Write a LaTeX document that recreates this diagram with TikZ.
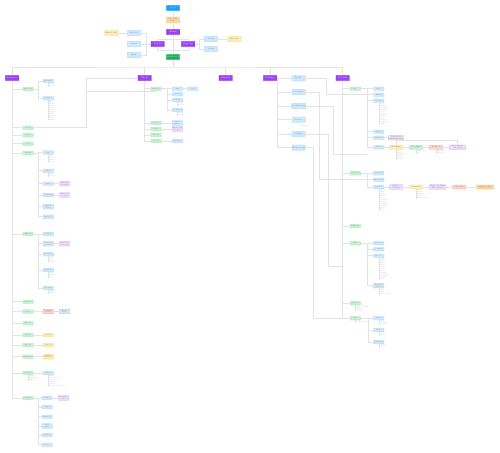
\documentclass[tikz,border=0pt]{standalone}
\usepackage{tikz}
\usetikzlibrary{positioning}
\usepackage{xcolor}
\definecolor{topblue}{HTML}{18A0FB}
\definecolor{topgreen}{HTML}{1BB15A}
\definecolor{peach}{HTML}{FDD8A2}
\definecolor{peachline}{HTML}{F5BE6E}
\definecolor{hdrpurple}{HTML}{9B42F3}
\definecolor{secfill}{HTML}{C5F3D2}
\definecolor{secline}{HTML}{95DDAB}
\definecolor{pgfill}{HTML}{CFE9FC}
\definecolor{pgline}{HTML}{9DCDF3}
\definecolor{notefill}{HTML}{EEDCFC}
\definecolor{noteline}{HTML}{D1A9F5}
\definecolor{warnfill}{HTML}{FDD2CE}
\definecolor{warnline}{HTML}{F0A39B}
\definecolor{hintfill}{HTML}{FEEEB3}
\definecolor{hintline}{HTML}{F2D675}
\definecolor{orafill}{HTML}{FDD3A0}
\definecolor{oraline}{HTML}{F3AE5E}
\definecolor{wiregray}{HTML}{E3E3E3}
\definecolor{listgray}{HTML}{9A9A9A}
\definecolor{boxtext}{HTML}{6A6A6A}

\begin{document}
\begin{tikzpicture}[x=1pt,y=-1pt,
  wire/.style={draw=wiregray,line width=0.45pt},
  guide/.style={draw=wiregray,line width=0.3pt},
  box/.style={draw,rounded corners=0.4pt,line width=0.25pt,inner sep=0.2pt,align=center,text=boxtext,
    font=\fontsize{1.5}{1.8}\selectfont,minimum width=10.4pt,minimum height=3.4pt},
  hdr/.style={box,fill=hdrpurple,draw=hdrpurple!85!black,text=white,minimum width=13.5pt,
    minimum height=5.4pt,font=\fontsize{2}{2.4}\selectfont},
  big/.style={minimum width=13.3pt,minimum height=5.2pt,font=\fontsize{1.8}{2.1}\selectfont},
  wide/.style={minimum width=16.7pt},
  two/.style={minimum height=4.6pt},
  sec/.style={box,fill=secfill,draw=secline},
  pg/.style={box,fill=pgfill,draw=pgline},
  note/.style={box,fill=notefill,draw=noteline},
  warn/.style={box,fill=warnfill,draw=warnline},
  hint/.style={box,fill=hintfill,draw=hintline},
  ora/.style={box,fill=orafill,draw=oraline},
  lst/.style={anchor=north west,inner sep=0pt,align=left,text=listgray,font=\fontsize{1.4}{2}\selectfont}
]
\fill[white] (0,0) rectangle (500,452);
\useasboundingbox (0,0) rectangle (500,452);

% entry
\node[box,big,fill=topblue,draw=topblue,text=white] (start) at (173,8) {Start};
\node[box,big,fill=peach,draw=peachline,minimum height=6pt] (landing) at (173,20) {Landing\\Page};
\node[hdr] (home) at (173,32) {Home};
\node[hdr] (login) at (157.7,44) {Log In};
\node[hdr] (signup) at (188,44) {Sign Up};
\node[box,big,fill=topgreen,draw=topgreen,text=white] (dash) at (173,57) {Dashboard};
\node[pg,big] (recover) at (134,33) {Recover};
\node[pg,big] (reset) at (134,44) {Reset};
\node[pg,big] (help) at (134,55) {Help};
\node[hint,big] (sent) at (111.5,33) {Email Sent};
\node[pg,big] (verify) at (211,39) {Verify};
\node[pg,big] (terms) at (211,49) {Terms};
\node[hint,big] (welcome) at (234.5,39) {Welcome};

\coordinate (split) at (173,39.5);
\coordinate (join) at (173,50.5);
\draw[wire] (start) -- (landing);
\draw[wire] (landing) -- (home);
\draw[wire] (home) -- (dash);
\draw[wire] (login.north) |- (split) -| (signup.north);
\draw[wire] (login.south) |- (join) -| (signup.south);
\draw[wire] (sent) -- (recover);
\draw[wire] (recover.east) -- ++(5,0) |- (login.west);
\draw[wire] (reset.east) -- (login.west);
\draw[wire] (help.east) -- ++(5,0) |- (login.west);
\draw[wire] (verify.west) -- ++(-5,0) |- (signup.east);
\draw[wire] (terms.west) -- ++(-5,0) |- (signup.east);
\draw[wire] (welcome) -- (verify);

% sections
\node[hdr] (projects) at (12,78) {Projects};
\node[hdr] (team) at (144.7,78) {Team};
\node[hdr] (reports) at (225.7,78) {Reports};
\node[hdr] (settings) at (270,78) {Settings};
\node[hdr] (account) at (342.7,78) {Account};
\coordinate (bus) at (173,67);
\draw[wire] (dash) -- (bus);
\draw[wire] (projects.north) |- (bus) -| (account.north);
\draw[wire] (team.north) -- (team.north |- bus);
\draw[wire] (reports.north) -- (reports.north |- bus);
\draw[wire] (settings.north) -- (settings.north |- bus);

% projects
\node[sec] (ov) at (28,89) {Overview};
\node[sec] (srch) at (28,127.7) {Search};
\node[sec] (filt) at (28,135.3) {Filter};
\node[sec] (sortg) at (28,143.7) {Sort};
\node[sec] (det) at (28,152.8) {Details};
\node[sec] (edt) at (28,234) {Editor};
\node[sec] (arch) at (28,301.7) {Archive};
\node[sec] (del) at (28,311.5) {Delete};
\node[sec] (expo) at (28,323.3) {Export};
\node[sec] (shr) at (28,335) {Share};
\node[sec] (imp) at (28,345) {Import};
\node[sec] (tmpl) at (28,356.7) {Templates};
\node[sec] (act) at (28,373) {Activity};
\node[sec] (crt) at (28,398) {Create};
\draw[wire] (projects.south) |- (crt.west);
\draw[wire] (ov.west) -- (ov.west -| projects.south) (srch.west) -- (srch.west -| projects.south)
  (filt.west) -- (filt.west -| projects.south) (sortg.west) -- (sortg.west -| projects.south)
  (det.west) -- (det.west -| projects.south) (edt.west) -- (edt.west -| projects.south)
  (arch.west) -- (arch.west -| projects.south) (del.west) -- (del.west -| projects.south)
  (expo.west) -- (expo.west -| projects.south) (shr.west) -- (shr.west -| projects.south)
  (imp.west) -- (imp.west -| projects.south) (tmpl.west) -- (tmpl.west -| projects.south)
  (act.west) -- (act.west -| projects.south);

\node[pg] (ovA) at (48.3,81) {Summary};
\node[pg] (ovB) at (48.3,98.3) {Stats};
\node[lst] (ovAl) at ([xshift=0.7pt,yshift=-0.8pt]ovA.south) {Recent\\Pinned};
\node[lst] (ovBl) at ([xshift=0.7pt,yshift=-0.8pt]ovB.south) {Open\\Closed\\Overdue\\Progress\\Milestones\\Budget\\Hours\\Owners\\Tags\\Trend};
\draw[wire] (ov.east) -- ++(5.3,0) coordinate (ovk);
\draw[wire] (ovA.west) -| (ovk) |- (ovB.west);
\draw[guide] (ovA.south) -- (ovA.south |- ovAl.south) (ovB.south) -- (ovB.south |- ovBl.south);

\node[pg] (detA) at (48.3,152.5) {Info};
\node[pg] (detB) at (48.3,170.7) {Tasks};
\node[pg] (detC) at (48.3,183.7) {Files};
\node[note,two] (detCn) at (64.7,183.7) {Max size\\25 MB};
\node[pg] (detD) at (48.3,195) {Comments};
\node[note,two] (detDn) at (64.7,195) {Mentions\\notify};
\node[pg,two] (detE) at (48.3,206.7) {Linked\\Items};
\node[pg] (detF) at (48.3,216.7) {History};
\node[lst] (detAl) at ([xshift=0.7pt,yshift=-0.8pt]detA.south) {Name\\Owner\\Status\\Dates};
\node[lst] (detBl) at ([xshift=0.7pt,yshift=-0.8pt]detB.south) {Open\\Done};
\draw[wire] (det.east) -- ++(5.3,0) coordinate (detk);
\draw[wire] (detA.west) -| (detk) |- (detF.west);
\draw[wire] (detB.west) -- (detB.west -| detk) (detC.west) -- (detC.west -| detk)
  (detD.west) -- (detD.west -| detk) (detE.west) -- (detE.west -| detk);
\draw[wire] (detC) -- (detCn) (detD) -- (detDn);
\draw[guide] (detA.south) -- (detA.south |- detAl.south) (detB.south) -- (detB.south |- detBl.south);

\node[pg] (edtA) at (48.3,234) {Canvas};
\node[pg,two] (edtB) at (48.3,243.7) {Version\\Control};
\node[note,two] (edtBn) at (64.7,243.7) {Autosave\\on edit};
\node[pg] (edtC) at (48.3,254.3) {Toolbar};
\node[pg] (edtD) at (48.3,270) {Sidebar};
\node[pg] (edtE) at (48.3,288) {Preview};
\node[lst] (edtCl) at ([xshift=0.7pt,yshift=-0.8pt]edtC.south) {Undo\\Redo\\Format};
\node[lst] (edtDl) at ([xshift=0.7pt,yshift=-0.8pt]edtD.south) {Layers\\Assets\\Notes};
\node[lst] (edtEl) at ([xshift=0.7pt,yshift=-0.8pt]edtE.south) {Desktop\\Mobile};
\draw[wire] (edt.east) -- (edtA.west);
\draw[wire] (edtA.west) -- ++(-5,0) coordinate (edtk) |- (edtE.west);
\draw[wire] (edtB.west) -- (edtB.west -| edtk) (edtC.west) -- (edtC.west -| edtk)
  (edtD.west) -- (edtD.west -| edtk);
\draw[wire] (edtB) -- (edtBn);
\draw[guide] (edtC.south) -- (edtC.south |- edtCl.south) (edtD.south) -- (edtD.south |- edtDl.south)
  (edtE.south) -- (edtE.south |- edtEl.south);

\node[warn,two] (delW) at (48.3,311.5) {Confirm\\Delete};
\node[pg,two] (delP) at (64.5,311.5) {Undo\\Toast};
\draw[wire] (del) -- (delW) -- (delP);
\node[hint] (shrH) at (48.3,335) {Invite};
\node[hint] (impH) at (48.3,345) {Upload};
\node[hint,two] (tmplH) at (48.3,356.7) {Template\\Gallery};
\draw[wire] (shr) -- (shrH) (imp) -- (impH) (tmpl) -- (tmplH);

\node[pg] (actA) at (48.3,373) {Feed};
\node[lst] (actl) at ([xshift=0.7pt,yshift=-0.8pt]act.south) {Today\\This week\\Earlier};
\node[lst] (actAl) at ([xshift=0.7pt,yshift=-0.8pt]actA.south) {Edits\\Comments\\Uploads\\Members\\Status\\Deadlines changed};
\draw[wire] (act) -- (actA);
\draw[guide] (act.south) -- (act.south |- actl.south) (actA.south) -- (actA.south |- actAl.south);

\node[pg] (crtA) at (47,398) {Name};
\node[note,two] (crtAn) at (63.5,398) {Required\\field};
\node[pg] (crtB) at (47,407) {Type};
\node[pg] (crtC) at (47,416.7) {Members};
\node[pg,two] (crtD) at (47,426) {Start\\Date};
\node[pg] (crtE) at (47,435) {Privacy};
\node[pg] (crtF) at (47,444.7) {Done};
\draw[wire] (crt.east) -- (crtA.west);
\draw[wire] (crt.east) -- ++(5.3,0) coordinate (crtk) |- (crtF.west);
\draw[wire] (crtB.west) -- (crtB.west -| crtk) (crtC.west) -- (crtC.west -| crtk)
  (crtD.west) -- (crtD.west -| crtk) (crtE.west) -- (crtE.west -| crtk);
\draw[wire] (crtA) -- (crtAn);

% team
\node[sec] (mem) at (156,88.7) {Members};
\node[sec] (rol) at (156,123) {Roles};
\node[sec] (inv) at (156,129) {Invites};
\node[sec] (grp) at (156,135) {Groups};
\node[sec] (perm) at (156,141) {Access};
\draw[wire] (team.south) |- (perm.west);
\draw[wire] (mem.west) -- (mem.west -| team.south) (rol.west) -- (rol.west -| team.south)
  (inv.west) -- (inv.west -| team.south) (grp.west) -- (grp.west -| team.south);
\node[pg] (memA) at (177.5,88.7) {List};
\node[pg] (memA2) at (192.7,88.7) {Card};
\node[pg] (memB) at (177.5,94.3) {Search};
\node[pg] (memC) at (177.5,100) {Profile};
\node[pg] (memD) at (177.5,110) {Workload};
\node[lst] (memCl) at ([xshift=0.7pt,yshift=-0.8pt]memC.south) {Contact\\Projects};
\node[lst] (memDl) at ([xshift=0.7pt,yshift=-0.8pt]memD.south) {Week\\Month};
\draw[wire] (mem) -- (memA) -- (memA2);
\draw[wire] (mem.east) -- ++(5.7,0) coordinate (memk) |- (memD.west);
\draw[wire] (memB.west) -- (memB.west -| memk) (memC.west) -- (memC.west -| memk);
\draw[guide] (memC.south) -- (memC.south |- memCl.south) (memD.south) -- (memD.south |- memDl.south);
\node[pg,two] (rolA) at (177.5,123) {Role\\Editor};
\node[note,two] (invN) at (177.5,129) {Expires in\\7 days};
\node[pg] (permA) at (177.5,141) {Matrix};
\draw[wire] (rol) -- (rolA) (inv) -- (invN) (perm) -- (permA);

\coordinate (xa) at (86,78);
\coordinate (xb) at (86,91.7);
\draw[wire] (srch.east) -| (xa) -- (team.west);
\draw[wire] (xb) -| (mem.south);

% settings
\node[pg,big] (prof) at (298.7,78.3) {Profile};
\node[pg,big] (secr) at (298.7,92) {Security};
\node[pg,big] (notif) at (298.7,106) {Notifications};
\node[pg,big] (priv) at (298.7,119.7) {Privacy};
\node[pg,big] (bill) at (298.7,134) {Billing};
\node[pg,big] (intg) at (298.7,147.7) {Integrations};
\node[lst] (privl) at ([xshift=1.3pt,yshift=-3.2pt]priv.south) {Visibility};
\draw[wire] (settings) -- (prof);
\draw[wire] (prof.west) -- ++(-14.3,0) coordinate (stk) |- (intg.west);
\draw[wire] (secr.west) -- (secr.west -| stk) (notif.west) -- (notif.west -| stk)
  (priv.west) -- (priv.west -| stk) (bill.west) -- (bill.west -| stk);

% account
\node[sec] (info) at (355.3,88.7) {Info};
\node[sec] (secu) at (355.3,173.3) {Security};
\node[sec] (lang) at (355.3,226) {Language};
\node[sec] (plan) at (355.3,243.3) {Plan};
\node[sec] (logs) at (355.3,303.3) {Sessions};
\node[sec] (apps) at (355.3,318.3) {Apps};
\draw[wire] (account.south) |- (apps.west);
\draw[wire] (info.west) -- (info.west -| account.south) (secu.west) -- (secu.west -| account.south)
  (lang.west) -- (lang.west -| account.south) (plan.west) -- (plan.west -| account.south)
  (logs.west) -- (logs.west -| account.south);

\node[pg] (infA) at (378.7,88.7) {Name};
\node[pg] (infB) at (378.7,94.7) {Email};
\node[pg] (infC) at (378.7,100.7) {Details};
\node[pg] (infD) at (378.7,131.7) {Avatar};
\node[pg] (infE) at (378.7,137.7) {Timezone};
\node[note,big,two] (infEn) at (396,137.7) {Detected\\automatically};
\node[pg] (infF) at (378.7,147.3) {Delete};
\node[hint,big,minimum height=3.8pt] (infT) at (396,147.3) {Warning};
\node[sec,big,minimum height=3.8pt] (infS) at (416,147.3) {Confirm};
\node[warn,big,minimum height=3.8pt] (infW) at (436,147.3) {Deleted};
\node[note,big,wide,two] (infN) at (457.7,147.3) {Data kept\\30 days};
\node[lst] (infCl) at ([xshift=0.7pt,yshift=-0.8pt]infC.south) {Phone\\Company\\Job title\\Address\\City\\Country\\Website\\Bio\\Birthday\\Pronouns\\Skills};
\node[lst] (infTl) at ([xshift=0.7pt,yshift=-0.8pt]infT.south) {Files\\Tasks\\Comments\\Projects\\Billing};
\node[lst] (infSl) at ([xshift=0.7pt,yshift=-0.8pt]infS.south) {Password\\Code};
\node[lst] (infWl) at ([xshift=0.7pt,yshift=-0.8pt]infW.south) {Email sent\\Logout};
\draw[wire] (info) -- (infA);
\draw[wire] (info.east) -- ++(6.6,0) coordinate (infk) |- (infF.west);
\draw[wire] (infB.west) -- (infB.west -| infk) (infC.west) -- (infC.west -| infk)
  (infD.west) -- (infD.west -| infk) (infE.west) -- (infE.west -| infk);
\draw[wire] (infE) -- (infEn);
\draw[wire] (infF) -- (infT) -- (infS) -- (infW) -- (infN);
\draw[wire] (infT.north) -- ++(0,-4.6) -| (infN.north);
\draw[guide] (infC.south) -- (infC.south |- infCl.south) (infT.south) -- (infT.south |- infTl.south)
  (infS.south) -- (infS.south |- infSl.south) (infW.south) -- (infW.south |- infWl.south);

\node[pg] (secA) at (378.7,173.3) {Password};
\node[pg] (secB) at (378.7,179.7) {Two-factor};
\node[pg] (secC) at (378.7,187) {Devices};
\node[note,big,two] (secN1) at (396,187) {Max 5\\devices};
\node[hint,big,minimum height=3.8pt] (secT) at (416,187) {Trusted};
\node[note,big,wide,two] (secN2) at (437.7,187) {Sign out from\\all devices};
\node[warn,big,minimum height=3.8pt] (secW) at (459.3,187) {Revoke};
\node[ora,big,wide,minimum height=3.8pt] (secO) at (485,187) {Signed Out};
\node[lst] (secCl) at ([xshift=0.7pt,yshift=-0.8pt]secC.south) {Laptop\\Phone\\Tablet\\Browser\\OS\\Location\\Last seen\\IP address\\Created\\Type\\Status};
\node[lst] (secTl) at ([xshift=0.7pt,yshift=-0.8pt]secT.south) {Name\\Added\\Expires\\Remove\\Rename device};
\draw[wire] (secu) -- (secA);
\draw[wire] (secu.east) -- ++(6.6,0) coordinate (seck) |- (secC.west);
\draw[wire] (secB.west) -- (secB.west -| seck);
\draw[wire] (secC) -- (secN1) -- (secT) -- (secN2) -- (secW) -- (secO);
\draw[guide] (secC.south) -- (secC.south |- secCl.south) (secT.south) -- (secT.south |- secTl.south);

\node[pg] (plA) at (378.7,243.3) {Current};
\node[pg] (plB) at (378.7,249.3) {Compare};
\node[pg] (plC) at (378.7,255.7) {Invoices};
\node[pg,two] (plD) at (378.7,285.7) {Payment\\Method};
\node[lst] (plCl) at ([xshift=0.7pt,yshift=-0.8pt]plC.south) {Number\\Date\\Amount\\Tax\\Status\\Period\\Seats\\Discount\\Download\\Currency\\Notes};
\node[lst] (plDl) at ([xshift=0.7pt,yshift=-0.8pt]plD.south) {Card\\Bank\\Invoice only};
\draw[wire] (plan) -- (plA);
\draw[wire] (plan.east) -- ++(6.6,0) coordinate (plk) |- (plD.west);
\draw[wire] (plB.west) -- (plB.west -| plk) (plC.west) -- (plC.west -| plk);
\draw[guide] (plC.south) -- (plC.south |- plCl.south) (plD.south) -- (plD.south |- plDl.south);

\node[lst] (logsl) at ([xshift=0.7pt,yshift=-0.8pt]logs.south) {Active sessions\\Browser\\Location};
\draw[guide] (logs.south) -- (logs.south |- logsl.south);
\node[lst] (appsl) at ([xshift=0.7pt,yshift=-0.8pt]apps.south) {Connected apps};
\draw[guide] (apps.south) -- (apps.south |- appsl.south);
\node[pg] (appA) at (378.7,318.3) {Slack};
\node[pg] (appB) at (378.7,330) {Drive};
\node[pg] (appC) at (378.7,342) {Calendar};
\node[lst] (appAl) at ([xshift=0.7pt,yshift=-0.8pt]appA.south) {Connect\\Channels};
\node[lst] (appBl) at ([xshift=0.7pt,yshift=-0.8pt]appB.south) {Connect\\Folders};
\node[lst] (appCl) at ([xshift=0.7pt,yshift=-0.8pt]appC.south) {Connect\\Sync};
\draw[wire] (apps) -- (appA);
\draw[wire] (apps.east) -- ++(7.6,0) coordinate (appk) |- (appC.west);
\draw[wire] (appB.west) -- (appB.west -| appk);
\draw[guide] (appA.south) -- (appA.south |- appAl.south) (appB.south) -- (appB.south |- appBl.south)
  (appC.south) -- (appC.south |- appCl.south);

% links from settings
\draw[wire] (prof.east) -| (326.7,94.7) -- (infB.west);
\draw[wire] (secr.east) -| (319.3,179.7) -- (secB.west);
\draw[wire] (notif.east) -| (333,154.3) -- (367.3,154.3);
\draw[wire] (bill.east) -| (328,266) -- (account.south |- 0,266);
\draw[wire] (intg.east) -| (313.3,318.3) -- (apps.west);
\end{tikzpicture}
\end{document}
